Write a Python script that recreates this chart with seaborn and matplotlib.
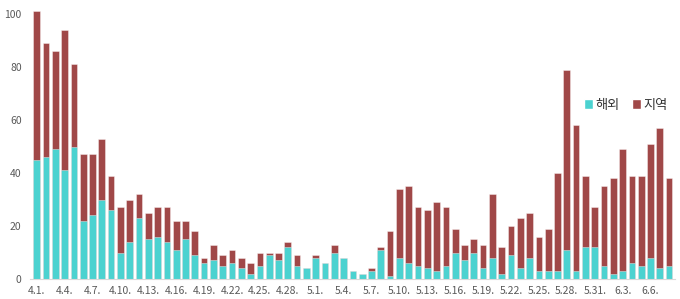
import matplotlib
matplotlib.use("Agg")
import matplotlib.pyplot as plt
import seaborn as sns
import pandas as pd
from matplotlib.patches import Patch

dates = ([f"4.{d}." for d in range(1, 31)] + [f"5.{d}." for d in range(1, 32)]
         + [f"6.{d}." for d in range(1, 9)])

total = [101, 89, 86, 94, 81, 47, 47, 53, 39, 27, 30, 32, 25, 27, 27, 22, 22, 18, 8, 13,
         9, 11, 8, 6, 10, 10, 10, 14, 9, 4,
         9, 6, 13, 8, 3, 2, 4, 12, 18, 34, 35, 27, 26, 29, 27, 19, 13, 15, 13, 32,
         12, 20, 23, 25, 16, 19, 40, 79, 58, 39, 27,
         35, 38, 49, 39, 39, 51, 57, 38]
overseas = [45, 46, 49, 41, 50, 22, 24, 30, 26, 10, 14, 23, 15, 16, 14, 11, 15, 9, 6, 7,
            5, 6, 4, 2, 5, 9, 7, 12, 5, 4,
            8, 6, 10, 8, 3, 2, 3, 11, 1, 8, 6, 5, 4, 3, 5, 10, 7, 10, 4, 8,
            2, 9, 4, 8, 3, 3, 3, 11, 3, 12, 12,
            5, 2, 3, 6, 5, 8, 4, 5]
local = [t - o for t, o in zip(total, overseas)]

series_names = ["해외", "지역"]
c_over = "#4BD2D0"
c_local = "#A04848"

df = pd.DataFrame({"date": dates, "해외": overseas, "지역": local})
df["total"] = df["해외"] + df["지역"]

sns.set_theme(style="white")
plt.rcParams["font.family"] = ["Noto Sans CJK KR", "DejaVu Sans"]

fig = plt.figure(figsize=(6.8, 2.99), dpi=100)
ax = fig.add_axes([30 / 680, 20 / 299, 645 / 680, 270.3 / 299])

sns.barplot(data=df, x="date", y="total", color=c_local, saturation=1, width=0.72,
            edgecolor=(1, 1, 1, 0.45), linewidth=0.6, ax=ax)
sns.barplot(data=df, x="date", y="해외", color=c_over, saturation=1, width=0.72,
            edgecolor=(1, 1, 1, 0.45), linewidth=0.6, ax=ax)

ax.set_xlim(-0.72, 68.63)
ax.set_ylim(0, 102)
ax.set_yticks([0, 20, 40, 60, 80, 100])
ax.set_xticks(range(0, len(dates), 3))
ax.set_xticklabels([dates[i] for i in range(0, len(dates), 3)])
ax.tick_params(axis="both", labelsize=7.5, colors="#595959", length=0)
ax.tick_params(axis="x", pad=5)
ax.tick_params(axis="y", pad=6)
ax.set_xlabel("")
ax.set_ylabel("")
for s in ["top", "right", "left"]:
    ax.spines[s].set_visible(False)
ax.spines["bottom"].set_color("#D9D9D9")
ax.spines["bottom"].set_linewidth(0.8)

handles = [Patch(facecolor=c_over, label=series_names[0]),
           Patch(facecolor=c_local, label=series_names[1])]
leg = ax.legend(handles=handles, loc="center",
                bbox_to_anchor=((626 - 30) / 645, (279 - 105) / 270.3),
                ncol=2, frameon=False, fontsize=9.5, handlelength=0.7, handleheight=0.7,
                handletextpad=0.2, columnspacing=0.9, labelcolor="#333333")

fig.savefig("out.png", dpi=100)
